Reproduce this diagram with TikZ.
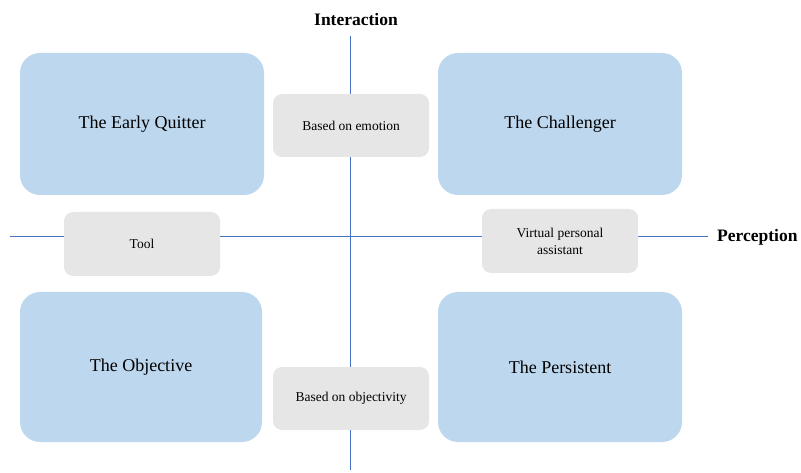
\documentclass[tikz,border=0pt]{standalone}
\usepackage{fontspec}
\setmainfont{Liberation Serif}
\begin{document}
\begin{tikzpicture}[x=1pt,y=-1pt,
  bigbox/.style={draw=none,fill={rgb,255:red,189;green,215;blue,238},rounded corners=20pt,inner sep=0pt,font=\fontsize{18}{21}\selectfont},
  smallbox/.style={draw=none,fill={rgb,255:red,230;green,230;blue,230},rounded corners=9pt,inner sep=0pt,align=center,font=\fontsize{13.5}{17}\selectfont},
  axis/.style={draw={rgb,255:red,68;green,114;blue,196},line width=0.8pt},
  axlabel/.style={font=\bfseries\fontsize{17.5}{20}\selectfont,inner sep=0pt}]
\useasboundingbox (0,0) rectangle (801,473);
\coordinate (vt) at (350,36);
\coordinate (vb) at (350,470);
\coordinate (hl) at (10,236);
\coordinate (hr) at (708,236);
\draw[axis] (vt) -- (vb);
\draw[axis] (hl) -- (hr);
\node[axlabel] (inter) at (356,20) {Interaction};
\node[axlabel,anchor=west] (perc) at (717,237) {Perception};
\node[bigbox,minimum width=244pt,minimum height=142pt] (eq) at (142,124) {The Early Quitter};
\node[bigbox,minimum width=244pt,minimum height=142pt] (ch) at (560,124) {The Challenger};
\node[bigbox,minimum width=242pt,minimum height=150pt] (ob) at (141,367) {The Objective};
\node[bigbox,minimum width=244pt,minimum height=150pt] (pe) at (560,367) {The Persistent};
\node[smallbox,minimum width=156pt,minimum height=63pt] (emo) at (351,125.5) {Based on emotion};
\node[smallbox,minimum width=156pt,minimum height=64pt] (tool) at (142,244) {Tool};
\node[smallbox,minimum width=156pt,minimum height=64pt] (vpa) at (560,241) {Virtual personal\\assistant};
\node[smallbox,minimum width=156pt,minimum height=63pt] (obj) at (351,398.5) {Based on objectivity};
\end{tikzpicture}
\end{document}
